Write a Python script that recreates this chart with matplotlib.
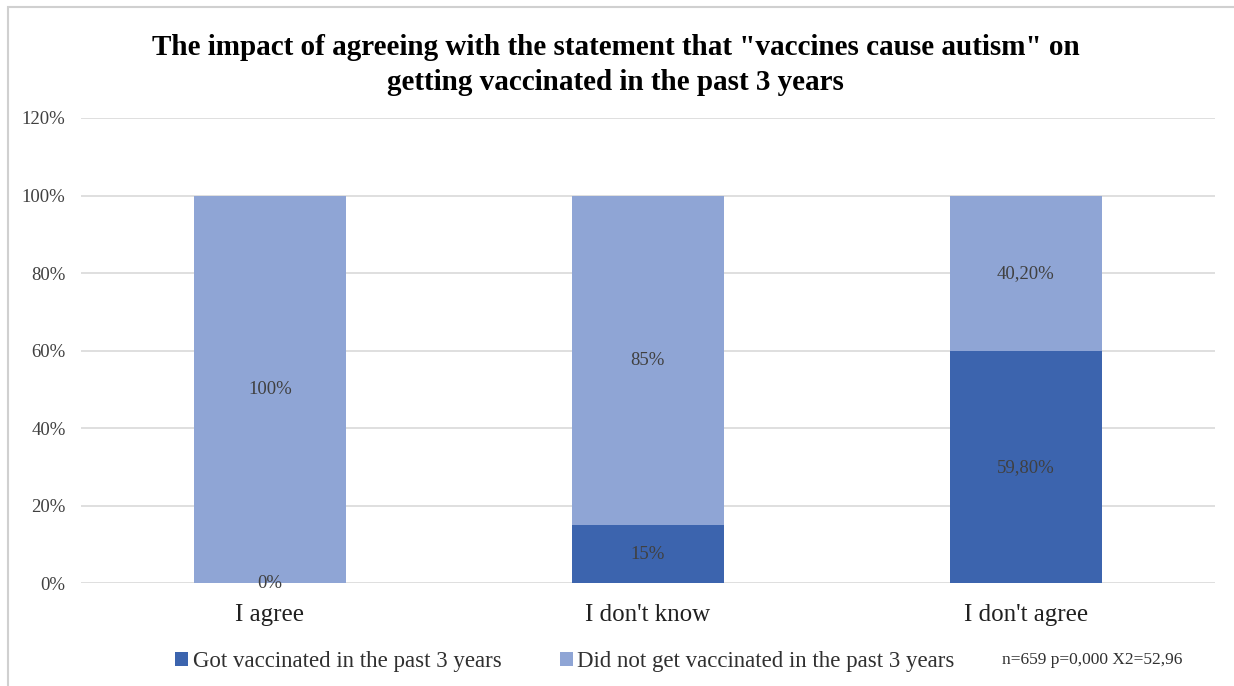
import numpy as np
import matplotlib
matplotlib.use('Agg')
import matplotlib.pyplot as plt
from matplotlib.patches import Rectangle

# data
categories = ['I agree', "I don't know", "I don't agree"]
got_vaccinated = [0.0, 15.0, 59.8]
not_vaccinated = [100.0, 85.0, 40.2]
got_labels = ['0%', '15%', '59,80%']
not_labels = ['100%', '85%', '40,20%']
series_names = ['Got vaccinated in the past 3 years',
                'Did not get vaccinated in the past 3 years']
y_ticks = [0, 20, 40, 60, 80, 100, 120]
stat_text = 'n=659 p=0,000 X2=52,96'
title = ('The impact of agreeing with the statement that "vaccines cause autism" on\n'
         'getting vaccinated in the past 3 years')

plt.rcParams['font.family'] = ['Liberation Serif', 'DejaVu Serif']

dark = '#3C64AE'
light = '#8FA5D5'

fig = plt.figure(figsize=(12.34, 6.86), dpi=100)
ax = fig.add_axes([0.0655, 0.150, 0.919, 0.678])

# outer chart frame
fig.patches.append(Rectangle((0.0065, -0.05), 1.2, 1.04, transform=fig.transFigure,
                             fill=False, edgecolor='#D0D0D0', linewidth=1.5))

x = np.arange(len(categories))
w = 0.403
b1 = ax.bar(x, got_vaccinated, w, color=dark, zorder=3, label=series_names[0])
b2 = ax.bar(x, not_vaccinated, w, bottom=got_vaccinated, color=light, zorder=3,
            label=series_names[1])

for i in range(len(categories)):
    ax.text(x[i], got_vaccinated[i] / 2, got_labels[i], ha='center', va='center',
            fontsize=13.5, color='#404040', zorder=4)
    ax.text(x[i], got_vaccinated[i] + not_vaccinated[i] / 2, not_labels[i],
            ha='center', va='center', fontsize=13.5, color='#404040', zorder=4)

ax.set_xlim(-0.5, len(categories) - 0.5)
ax.set_ylim(0, 120)
ax.set_yticks(y_ticks)
ax.set_yticklabels([f'{t}%' for t in y_ticks], fontsize=13.5, color='#404040')
ax.set_xticks(x)
ax.set_xticklabels(categories, fontsize=18, color='#202020')
ax.tick_params(axis='both', length=0)
ax.tick_params(axis='y', pad=11)
ax.tick_params(axis='x', pad=15)
ax.yaxis.grid(True, color='#D9D9D9', linewidth=1.2, zorder=0)
ax.set_axisbelow(True)
for s in ax.spines.values():
    s.set_visible(False)

fig.text(0.499, 0.905, title, ha='center', va='center', fontsize=21,
         fontweight='bold', linespacing=1.4)

leg = fig.legend(handles=[b1, b2], loc='center left', bbox_to_anchor=(0.1418, 0.036),
                 ncol=2, frameon=False, fontsize=16.5, handlelength=0.57,
                 handleheight=0.57, handletextpad=0.2, columnspacing=2.55,
                 borderpad=0, borderaxespad=0)
for t in leg.get_texts():
    t.set_color('#303030')

fig.text(0.812, 0.038, stat_text, ha='left', va='center', fontsize=12.5, color='#303030')

fig.savefig('out.png', dpi=100)
